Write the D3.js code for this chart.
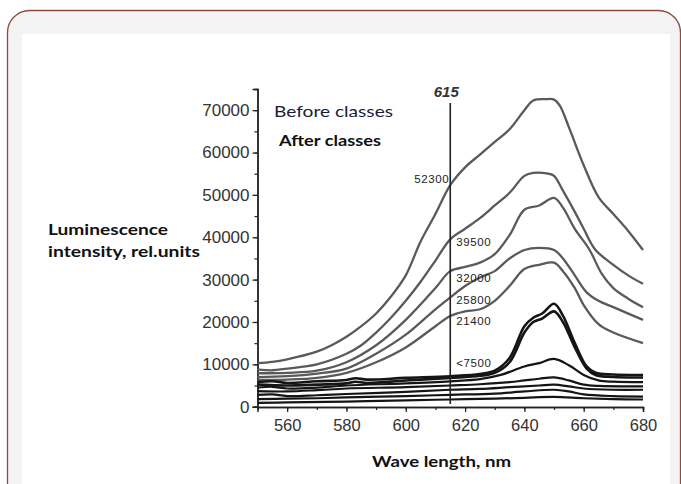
<!doctype html>
<html>
<head>
<meta charset="UTF-8" />
<script src="https://d3js.org/d3.v7.min.js"></script>
<style>
  body { margin: 0; background: #fff; }
  svg { display: block; }
</style>
</head>
<body>
<svg id="chart" width="681" height="484"></svg>
<script>
(function(){
  "use strict";

  // wavelength ticks and y ticks
  const xTicks = [560, 580, 600, 620, 640, 660, 680];
  const yTicks = [0, 10000, 20000, 30000, 40000, 50000, 60000, 70000];

  // "before classes" spectra (grey)
  const before52300 = [[550,10300],[555,10600],[560,11200],[570,13000],[575,14500],[580,16500],[585,19000],[590,22000],[595,26000],[600,31000],[605,39000],[610,45500],[615,52300],[620,56500],[625,59500],[630,62500],[635,65500],[640,70000],[643,72300],[647,72600],[650,72500],[652,71000],[655,66000],[660,57000],[665,49500],[670,45500],[675,41500],[680,37000]];
  const before39500 = [[550,8800],[555,8600],[560,9000],[570,10000],[580,12500],[585,14500],[590,17500],[595,21000],[600,25000],[605,29500],[610,34500],[615,39500],[620,42000],[625,44500],[630,47500],[635,50500],[640,54500],[643,55200],[648,55000],[650,54500],[653,51000],[657,46000],[660,42000],[664,37000],[670,33500],[675,31000],[680,29000]];
  const before32000 = [[550,7900],[560,8000],[570,8500],[580,10500],[590,14500],[600,20500],[610,28000],[615,32000],[620,33000],[625,34000],[630,36000],[635,40500],[640,46500],[645,47500],[650,49300],[653,47000],[657,42000],[662,37000],[666,31500],[670,28000],[675,25500],[680,23500]];
  const before25800 = [[550,7000],[560,7200],[570,7800],[580,9000],[590,12500],[600,17000],[610,23000],[615,25800],[620,28500],[625,30500],[630,32000],[635,35000],[640,37000],[645,37500],[650,37000],[653,35000],[657,31000],[661,27000],[665,25000],[670,23500],[680,20500]];
  const before21400 = [[550,6300],[560,6400],[570,6800],[580,8000],[590,10500],[600,14000],[610,19000],[615,21400],[620,22500],[625,23000],[630,25000],[635,28500],[640,32500],[645,33500],[650,34000],[653,32000],[657,28000],[660,24000],[665,19500],[670,17500],[680,15000]];

  // "after classes" spectra (black), all below 7500 at 615 nm
  const after1 = [[550,5800],[555,6000],[560,5600],[570,6000],[580,6300],[583,6700],[587,6400],[600,6800],[615,7200],[625,7700],[630,8500],[635,11500],[640,19000],[643,21000],[646,22000],[650,24300],[653,21500],[657,15000],[661,9500],[664,8000],[670,7600],[680,7500]];
  const after2 = [[550,5200],[560,5000],[570,5200],[580,5500],[583,5900],[587,5600],[600,6200],[615,6800],[625,7300],[630,8000],[635,10500],[640,17500],[643,20000],[646,20800],[650,22500],[653,20000],[657,14000],[661,9000],[664,7500],[670,7000],[680,6900]];
  const after3 = [[550,4500],[555,4700],[560,4300],[570,4500],[580,5000],[600,5500],[615,6000],[625,6500],[632,7500],[640,9500],[645,10300],[650,11300],[655,9800],[660,7500],[665,6200],[670,5900],[680,5800]];
  const after4 = [[550,3700],[560,3600],[570,3900],[580,4300],[600,4600],[615,5000],[625,5300],[635,5800],[640,6200],[645,6600],[650,6900],[655,6200],[660,5200],[665,4900],[680,4800]];
  const after5 = [[550,2800],[555,2900],[560,2500],[570,2700],[580,3000],[600,3500],[615,4000],[625,4200],[635,4600],[645,5000],[650,5200],[655,4800],[660,4300],[670,4000],[680,4000]];
  const after6 = [[550,1800],[560,1900],[570,2000],[580,2200],[600,2500],[615,2800],[630,3100],[640,3600],[650,4000],[655,3600],[660,2900],[670,2500],[680,2400]];
  const after7 = [[550,900],[560,1000],[580,1200],[600,1500],[615,1700],[630,1900],[640,2100],[650,2300],[660,2000],[670,1800],[680,1700]];

  const beforeSeries = [before52300, before39500, before32000, before25800, before21400];
  const afterSeries = [after1, after2, after3, after4, after5, after6, after7];

  // labels at the 615 nm marker
  const markLabels = ["52300", "39500", "32000", "25800", "21400", "<7500"];
  const markLabelY = [52800, 38000, 29500, 24300, 19400, 9400];

  const svg = d3.select("#chart");

  // card + white panel
  svg.append("rect")
     .attr("x", 7.5).attr("y", 10.5)
     .attr("width", 673).attr("height", 520)
     .attr("rx", 22).attr("ry", 22)
     .attr("fill", "#f3f3f3")
     .attr("stroke", "#8e4a3c")
     .attr("stroke-width", 1.3);
  svg.append("rect")
     .attr("x", 22).attr("y", 34)
     .attr("width", 648).attr("height", 460)
     .attr("fill", "#fff");

  const x = d3.scaleLinear().domain([550, 680]).range([257.5, 643]);
  const y = d3.scaleLinear().domain([0, 75000]).range([406.7, 89]);

  // axes
  const xAxis = svg.append("g").attr("transform", "translate(0,407)");
  xAxis.call(d3.axisBottom(x).tickValues(d3.range(550, 681, 10)).tickSize(3).tickFormat(""));
  xAxis.call(g => g.append("g").call(d3.axisBottom(x).tickValues(xTicks).tickSize(5).tickFormat(d3.format("d"))));
  xAxis.selectAll(".domain").attr("stroke", "#222").attr("stroke-width", 1.4);
  xAxis.selectAll(".tick line").attr("stroke", "#222").attr("stroke-width", 1.2);
  xAxis.selectAll("text")
       .attr("fill", "#333")
       .attr("font-family", "'Liberation Sans', Arial, sans-serif")
       .attr("font-size", 16.5)
       .attr("dy", "0.95em")
       .attr("y", 8);

  const yAxis = svg.append("g").attr("transform", "translate(257.5,0)");
  yAxis.call(d3.axisLeft(y).tickValues(d3.range(0, 75001, 5000)).tickSize(3).tickFormat(""));
  yAxis.call(g => g.append("g").call(d3.axisLeft(y).tickValues(yTicks).tickSize(5).tickFormat(d3.format("d"))));
  yAxis.selectAll(".domain").attr("stroke", "#222").attr("stroke-width", 1.4);
  yAxis.selectAll(".tick line").attr("stroke", "#222").attr("stroke-width", 1.2);
  yAxis.selectAll("text")
       .attr("fill", "#333")
       .attr("font-family", "'Liberation Sans', Arial, sans-serif")
       .attr("font-size", 17)
       .attr("x", -8);

  const line = d3.line()
      .x(d => x(d[0]))
      .y(d => y(d[1]))
      .curve(d3.curveCatmullRom.alpha(0.5));

  svg.append("g").selectAll("path")
     .data(beforeSeries)
     .join("path")
     .attr("d", line)
     .attr("fill", "none")
     .attr("stroke", "#5a5a5a")
     .attr("stroke-width", 2.3);

  svg.append("g").selectAll("path")
     .data(afterSeries)
     .join("path")
     .attr("d", line)
     .attr("fill", "none")
     .attr("stroke", "#151515")
     .attr("stroke-width", (d, i) => i < 2 ? 2.6 : 2.2);

  // 615 nm marker
  svg.append("line")
     .attr("x1", x(615)).attr("x2", x(615))
     .attr("y1", 103).attr("y2", 404)
     .attr("stroke", "#222")
     .attr("stroke-width", 1.6);
  svg.append("text")
     .attr("x", x(615) - 4).attr("y", 97)
     .attr("text-anchor", "middle")
     .attr("font-family", "'Liberation Sans', Arial, sans-serif")
     .attr("font-weight", "bold")
     .attr("font-style", "italic")
     .attr("font-size", 15)
     .attr("fill", "#333")
     .text("615");

  svg.append("g").selectAll("text")
     .data(markLabels)
     .join("text")
     .attr("x", (d, i) => i === 0 ? x(615) - 1 : x(615) + 6)
     .attr("y", (d, i) => y(markLabelY[i]))
     .attr("text-anchor", (d, i) => i === 0 ? "end" : "start")
     .attr("font-family", "'Liberation Sans', Arial, sans-serif")
     .attr("font-size", 11.5)
     .attr("letter-spacing", 0.6)
     .attr("fill", "#222")
     .text(d => d);

  // legend-like notes
  const noteFont = "Lato, 'Open Sans', sans-serif";
  svg.append("text")
     .attr("x", 274).attr("y", 117)
     .attr("font-family", noteFont).attr("font-size", 16)
     .attr("fill", "#1c1c3a")
     .attr("textLength", 119).attr("lengthAdjust", "spacingAndGlyphs")
     .text("Before classes");
  svg.append("text")
     .attr("x", 279).attr("y", 146)
     .attr("font-family", noteFont).attr("font-size", 16).attr("font-weight", "bold")
     .attr("fill", "#111")
     .attr("textLength", 102).attr("lengthAdjust", "spacingAndGlyphs")
     .text("After classes");

  // axis titles
  svg.append("text")
     .attr("x", 48).attr("y", 235)
     .attr("font-family", noteFont).attr("font-size", 16).attr("font-weight", "bold")
     .attr("fill", "#111")
     .attr("textLength", 120).attr("lengthAdjust", "spacingAndGlyphs")
     .text("Luminescence");
  svg.append("text")
     .attr("x", 48).attr("y", 257)
     .attr("font-family", noteFont).attr("font-size", 16).attr("font-weight", "bold")
     .attr("fill", "#111")
     .attr("textLength", 152).attr("lengthAdjust", "spacingAndGlyphs")
     .text("intensity, rel.units");
  svg.append("text")
     .attr("x", 372).attr("y", 467)
     .attr("font-family", noteFont).attr("font-size", 16).attr("font-weight", "bold")
     .attr("fill", "#111")
     .attr("textLength", 139).attr("lengthAdjust", "spacingAndGlyphs")
     .text("Wave length, nm");
})();
</script>
</body>
</html>
